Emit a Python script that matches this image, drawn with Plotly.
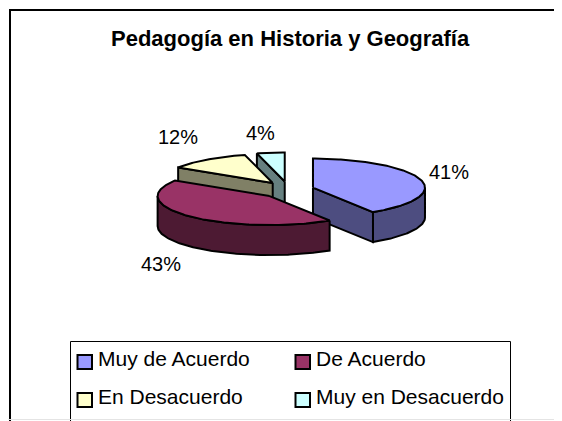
import math
import plotly.graph_objects as go

categories = ["Muy de Acuerdo", "De Acuerdo", "En Desacuerdo", "Muy en Desacuerdo"]
values = [41, 43, 12, 4]
top_colors = ["#9999FF", "#993366", "#FFFFCC", "#CCFFFF"]
side_colors = ["#4D4D80", "#4D1A33", "#808066", "#668080"]
label_pos = [(449, 172), (161, 264), (178, 137), (260, 133)]
legend_pos = [(77.5, 359), (295.5, 359), (77.5, 397), (295.5, 397)]

CX, CY = 288, 190       # pie centre in pixels
RX, RY, DEPTH = 112, 29, 30
EXPLODE, EXPLODE_K = 26, 0.33
W, H = 562, 421
PAGE_MARGIN = 8         # the browser's default body margin

fig = go.Figure()


def rim(cx, cy, a0, a1, dy=0):
    n = max(3, int(abs(a1 - a0) * 60))
    pts = [a0 + (a1 - a0) * i / n for i in range(n + 1)]
    return ([cx + RX * math.sin(a) for a in pts],
            [cy + dy - RY * math.cos(a) for a in pts])


def poly(xs, ys, fill):
    fig.add_trace(go.Scatter(
        x=xs + xs[:1], y=ys + ys[:1], mode="lines", fill="toself", fillcolor=fill,
        line=dict(color="black", width=2), hoverinfo="skip", showlegend=False))


total = sum(values)
angles = []
acc = 0
for v in values:
    a0 = acc / total * 2 * math.pi
    acc += v
    angles.append((a0, acc / total * 2 * math.pi))

centres = []
for a0, a1 in angles:
    mid = (a0 + a1) / 2
    centres.append((CX + EXPLODE * math.sin(mid),
                    CY - EXPLODE * EXPLODE_K * math.cos(mid)))

# which radial cut face of a slice the viewer can see
visible_face = {0: 1, 2: 0, 3: 0}

# back slices first, front ones over them
for i in [3, 2, 0, 1]:
    a0, a1 = angles[i]
    cx, cy = centres[i]
    if i in visible_face:
        a = angles[i][visible_face[i]]
        ex = cx + RX * math.sin(a)
        ey = cy - RY * math.cos(a)
        poly([cx, ex, ex, cx], [cy, ey, ey + DEPTH, cy + DEPTH], side_colors[i])
    # outer wall: only the part of the rim on the near side
    w0, w1 = max(a0, math.pi / 2), min(a1, 3 * math.pi / 2)
    if w1 > w0:
        xt, yt = rim(cx, cy, w0, w1)
        xb, yb = rim(cx, cy, w0, w1, DEPTH)
        poly(xt + xb[::-1], yt + yb[::-1], side_colors[i])
    xr, yr = rim(cx, cy, a0, a1)
    poly([cx] + xr, [cy] + yr, top_colors[i])

annotations = [dict(
    x=290, y=38, xref="x", yref="y", showarrow=False, xanchor="center",
    text="<b>Pedagogía en Historia y Geografía</b>",
    font=dict(family="Liberation Sans", size=22, color="black"))]
for v, (lx, ly) in zip(values, label_pos):
    annotations.append(dict(
        x=lx, y=ly, xref="x", yref="y", showarrow=False, text=f"{v}%",
        font=dict(family="Liberation Sans", size=20, color="black")))

shapes = [
    dict(type="line", xref="x", yref="y", x0=9, x1=562, y0=10, y1=10,
         line=dict(color="black", width=2)),
    dict(type="line", xref="x", yref="y", x0=10, x1=10, y0=10, y1=421,
         line=dict(color="black", width=2)),
    dict(type="line", xref="x", yref="y", x0=70.5, x1=510.5, y0=341.5, y1=341.5,
         line=dict(color="black", width=1)),
    dict(type="line", xref="x", yref="y", x0=70.5, x1=70.5, y0=341.5, y1=421,
         line=dict(color="black", width=1)),
    dict(type="line", xref="x", yref="y", x0=510.5, x1=510.5, y0=341.5, y1=421,
         line=dict(color="black", width=1)),
    dict(type="line", xref="x", yref="y", x0=0, x1=562, y0=419.5, y1=419.5,
         line=dict(color="#E4E4E4", width=1)),
]
for name, col, (lx, ly) in zip(categories, top_colors, legend_pos):
    shapes.append(dict(type="rect", xref="x", yref="y", x0=lx, x1=lx + 14.5, y0=ly - 4, y1=ly + 10,
                       fillcolor=col, line=dict(color="black", width=2)))
    annotations.append(dict(
        x=lx + 18, y=ly - 1, xref="x", yref="y", showarrow=False, xanchor="left", text=name,
        font=dict(family="Liberation Sans", size=21, color="black")))

fig.update_layout(
    width=W - PAGE_MARGIN, height=H - PAGE_MARGIN, margin=dict(l=0, r=0, t=0, b=0),
    paper_bgcolor="white", plot_bgcolor="white", showlegend=False,
    xaxis=dict(range=[PAGE_MARGIN, W], visible=False, fixedrange=True),
    yaxis=dict(range=[H, PAGE_MARGIN], visible=False, fixedrange=True),
    annotations=annotations, shapes=shapes,
)
fig.write_html("out.html", config={"displayModeBar": False})
